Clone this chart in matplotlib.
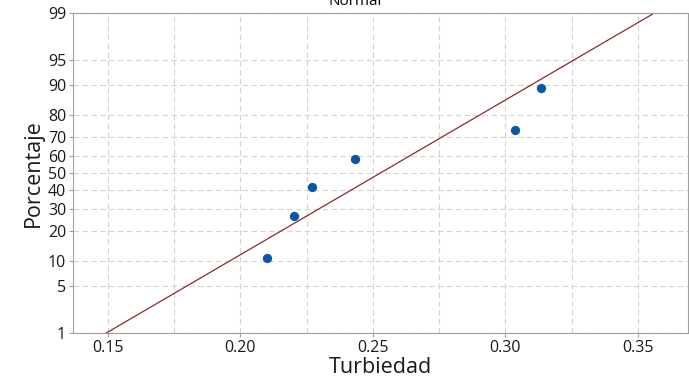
from statistics import NormalDist

import matplotlib
matplotlib.use("Agg")
import matplotlib.pyplot as plt
import numpy as np

# Turbiedad values
turbiedad = [0.2100, 0.2201, 0.2269, 0.2431, 0.3035, 0.3133]
pct_ticks = [1, 5, 10, 20, 30, 40, 50, 60, 70, 80, 90, 95, 99]
x_ticks = [0.15, 0.20, 0.25, 0.30, 0.35]

nd = NormalDist()
z = nd.inv_cdf

x = np.sort(np.array(turbiedad))
n = len(x)
ranks = [(i - 0.3) / (n + 0.4) for i in range(1, n + 1)]
zy = [z(p) for p in ranks]

mu = x.mean()
sd = x.std(ddof=1)
zl = np.linspace(z(0.01), z(0.99), 50)
xl = mu + sd * zl

plt.rcParams["font.family"] = ["Open Sans", "DejaVu Sans"]

fig = plt.figure(figsize=(6.89, 3.90), dpi=100)
ax = fig.add_axes([0.106, 0.146, 0.8925, 0.821])

ax.plot(xl, zl, color="#8b2a2a", lw=0.9, zorder=2)
ax.scatter(x, zy, s=32, color="#0b56a4", zorder=3)

ax.set_xlim(0.1368, 0.3689)
ax.set_ylim(z(0.01), z(0.99))
ax.set_yticks([z(p / 100) for p in pct_ticks])
ax.set_yticklabels([str(p) for p in pct_ticks])
ax.set_xticks(x_ticks)
ax.set_xticklabels([f"{t:.2f}" for t in x_ticks])
ax.set_xticks(np.arange(0.15, 0.36, 0.025), minor=True)

ax.grid(True, which="both", axis="x", ls=(0, (5, 3)), color="#d4d4d4", lw=0.8)
ax.grid(True, which="major", axis="y", ls=(0, (5, 3)), color="#d4d4d4", lw=0.8)
ax.set_axisbelow(True)
ax.tick_params(axis="both", which="major", labelsize=11.5, length=3,
               color="#a0a0a0", pad=2, labelcolor="#1a1a1a")
ax.tick_params(axis="x", which="minor", length=0)
for s in ax.spines.values():
    s.set_color("#a0a0a0")

ax.set_xlabel("Turbiedad", fontsize=15.5, labelpad=1, color="#1a1a1a")
ax.set_ylabel("Porcentaje", fontsize=15.5, labelpad=3, color="#1a1a1a")
fig.text(0.515, 1 - 5 / 390, "Normal", ha="center", va="baseline", fontsize=11)

fig.savefig("out.png", dpi=100, facecolor="white")
